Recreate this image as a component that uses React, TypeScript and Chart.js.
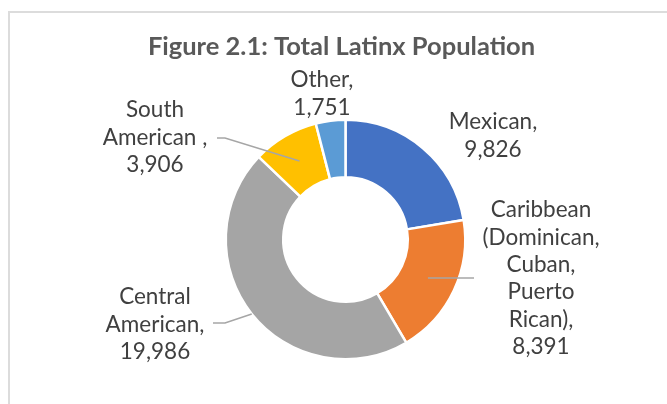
import React, { useEffect, useRef } from "react";
import { Chart, registerables } from "chart.js";

Chart.register(...registerables);

const title = "Figure 2.1: Total Latinx Population";
const categories = ["Mexican", "Caribbean (Dominican, Cuban, Puerto Rican)", "Central American", "South American ", "Other"];
const values = [9826, 8391, 19986, 3906, 1751];
const colors = ["#4472C4", "#ED7D31", "#A5A5A5", "#FFC000", "#5B9BD5"];
// wrapped label text (category part), value appended below
const labelWraps = [
  ["Mexican,"],
  ["Caribbean", "(Dominican,", "Cuban,", "Puerto", "Rican),"],
  ["Central", "American,"],
  ["South", "American ,"],
  ["Other,"],
];

// label placement relative to doughnut center (px): center x, first line y
const labelPlacement = [
  { dx: 147.5, dy: -117.5 },
  { dx: 195.5, dy: -29.5 },
  { dx: -190.5, dy: 57.5 },
  { dx: -190.5, dy: -129.5 },
  { dx: -23.5, dy: -159.5 },
];
// leader lines: anchor in slice ("mid" ring or "outer" edge) and path points relative to center
const leaders: { index: number; anchor: "mid" | "outer"; path: { dx: number; dy?: number }[] }[] = [
  { index: 3, anchor: "mid", path: [{ dx: -128.5, dy: -101.5 }, { dx: -120.5, dy: -101.5 }] },
  { index: 2, anchor: "outer", path: [{ dx: -132.5, dy: 83.5 }, { dx: -120.5, dy: 83.5 }] },
  { index: 1, anchor: "mid", path: [{ dx: 128.5 }] },
];

const LABEL_FONT = "22.5px Lato";
const TITLE_FONT = "bold 25.5px Lato";
const LINE_H = 27.4;

const labelPlugin = {
  id: "excelLabels",
  afterDraw(chart: any) {
    const ctx = chart.ctx as CanvasRenderingContext2D;
    const meta = chart.getDatasetMeta(0);
    if (!meta.data.length) return;
    const a0 = meta.data[0];
    const cx = a0.x;
    const cy = a0.y;
    ctx.save();
    // title
    ctx.fillStyle = "#595959";
    ctx.font = TITLE_FONT;
    ctx.textAlign = "center";
    ctx.textBaseline = "middle";
    ctx.fillText(title, 341.5, 47);

    // leader lines
    ctx.strokeStyle = "#A6A6A6";
    ctx.lineWidth = 1.5;
    leaders.forEach((l) => {
      const arc = meta.data[l.index];
      const mid = (arc.startAngle + arc.endAngle) / 2;
      const r = l.anchor === "mid" ? (arc.innerRadius + arc.outerRadius) / 2 : arc.outerRadius;
      const ax = cx + Math.cos(mid) * r;
      const ay = cy + Math.sin(mid) * r;
      ctx.beginPath();
      if (l.index === 1) {
        ctx.moveTo(ax, ay);
        ctx.lineTo(cx + l.path[0].dx, ay);
      } else {
        ctx.moveTo(cx + l.path[0].dx, cy + (l.path[0].dy as number));
        ctx.lineTo(cx + l.path[1].dx, cy + (l.path[1].dy as number));
        ctx.lineTo(ax, ay);
      }
      ctx.stroke();
    });

    // labels
    ctx.fillStyle = "#404040";
    ctx.font = LABEL_FONT;
    values.forEach((v, i) => {
      const lines = [...labelWraps[i], v.toLocaleString("en-US")];
      const p = labelPlacement[i];
      lines.forEach((t, k) => {
        ctx.fillText(t, cx + p.dx, cy + p.dy + k * LINE_H);
      });
    });
    ctx.restore();
  },
};

export default function App() {
  const ref = useRef<HTMLCanvasElement | null>(null);
  useEffect(() => {
    if (!ref.current) return;
    const chart = new Chart(ref.current, {
      type: "doughnut",
      data: {
        labels: categories,
        datasets: [
          {
            data: values,
            backgroundColor: colors,
            borderColor: "#FFFFFF",
            borderWidth: 2.5,
            hoverOffset: 0,
          },
        ],
      },
      options: {
        responsive: false,
        animation: false,
        devicePixelRatio: 1,
        cutout: "52%",
        layout: { padding: { left: 200, right: 176, top: 118.5, bottom: 43.5 } },
        plugins: {
          legend: { display: false },
          title: { display: false },
          tooltip: { enabled: false },
        },
      },
      plugins: [labelPlugin],
    });
    return () => chart.destroy();
  }, []);
  return (
    <div style={{ position: "absolute", left: 0, top: 0, width: 667, height: 404, overflow: "hidden", background: "#fff" }}>
      <div
        style={{
          position: "absolute",
          left: 8,
          top: 11,
          width: 700,
          height: 450,
          border: "2px solid #DCDCDC",
        }}
      />
      <canvas ref={ref} width={667} height={404} style={{ position: "absolute", left: 0, top: 0, width: 667, height: 404 }} />
    </div>
  );
}
